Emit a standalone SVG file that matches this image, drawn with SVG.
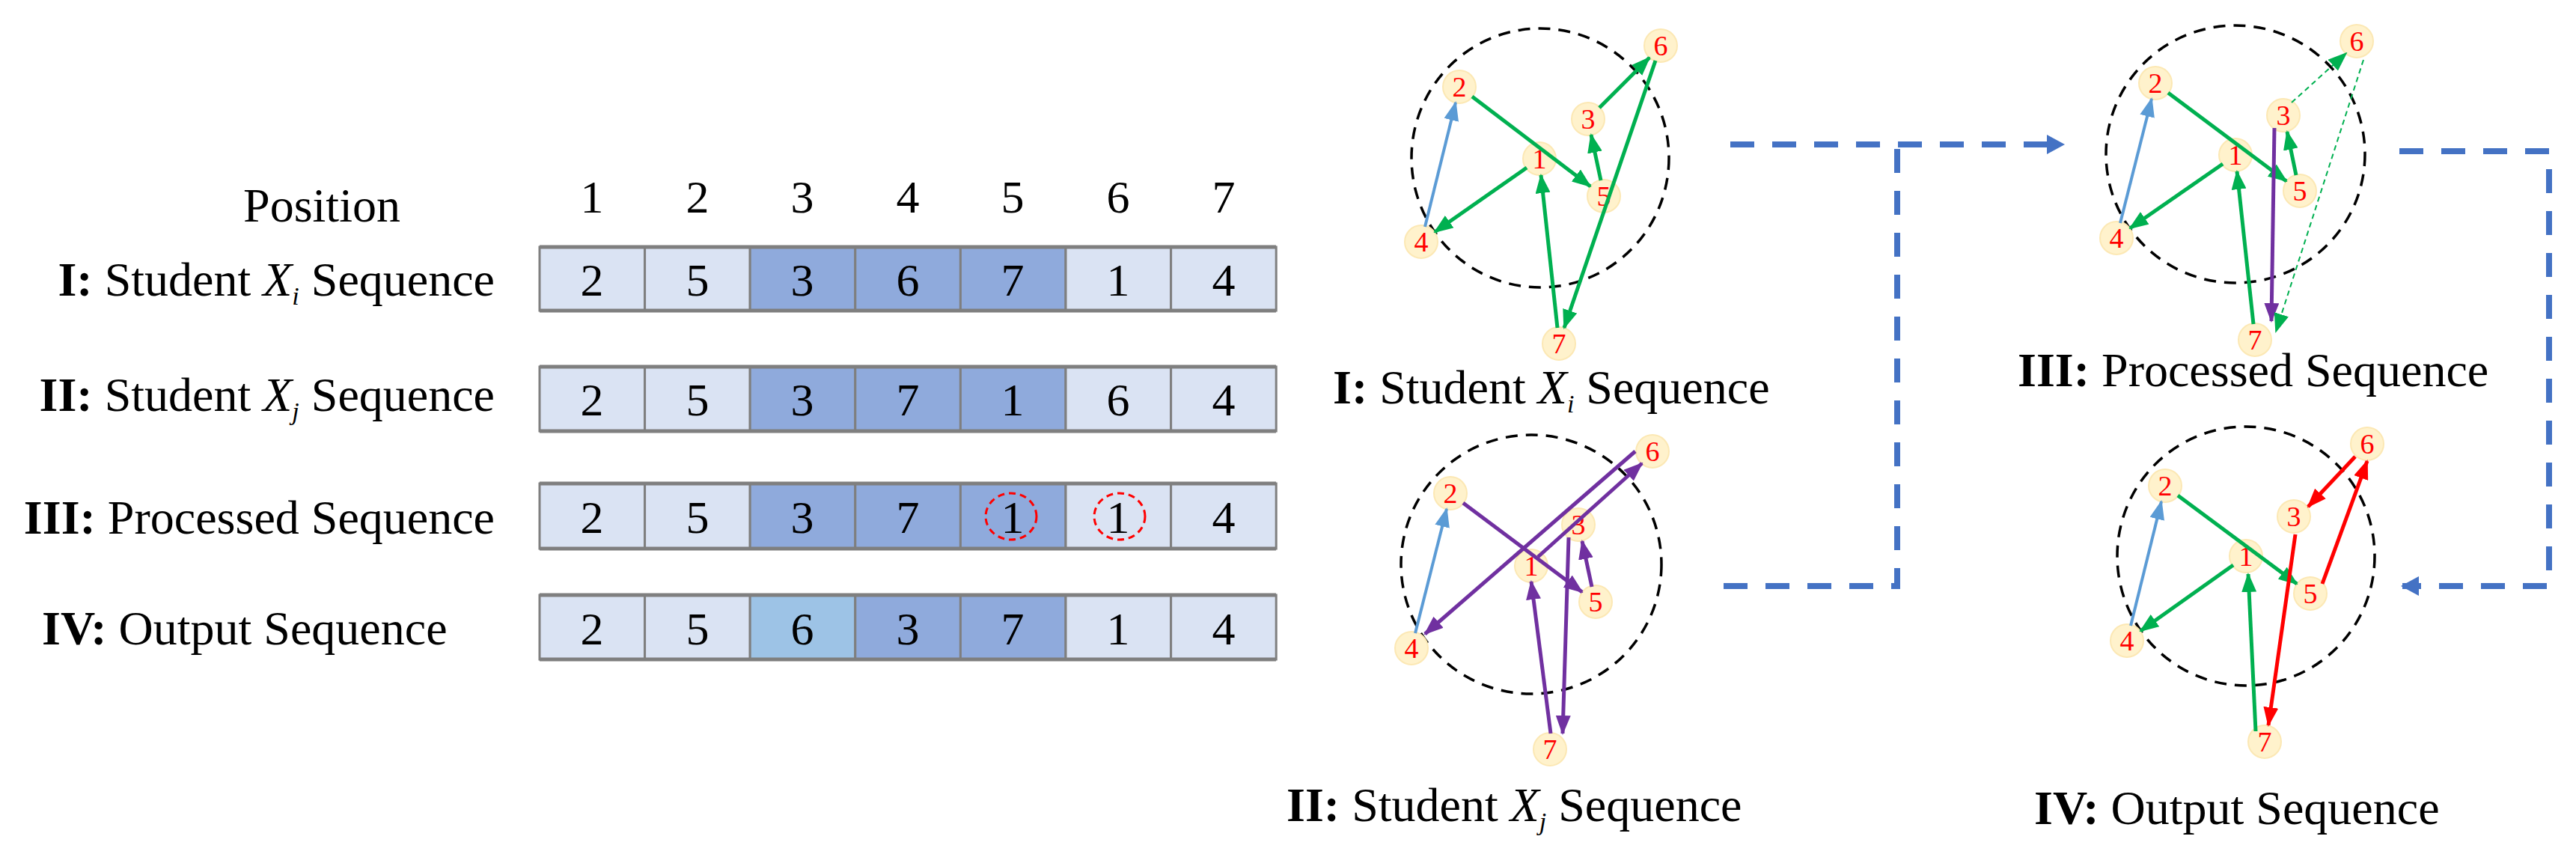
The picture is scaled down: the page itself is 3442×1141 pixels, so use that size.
<svg xmlns="http://www.w3.org/2000/svg" width="3442" height="1141" viewBox="0 0 3442 1141">
<style>
text{font-family:"Liberation Serif","Times New Roman",serif;fill:#000}
.lab{font-size:64px}
.b{font-weight:bold}
.it{font-style:italic}
.sub{font-style:italic;font-size:34px}
.num{font-size:62px;text-anchor:middle}
.c1{fill:#DAE3F3;stroke:#7F7F7F;stroke-width:3}
.c2{fill:#8FAADC;stroke:#7F7F7F;stroke-width:3}
.c3{fill:#9DC3E6;stroke:#7F7F7F;stroke-width:3}
.rowb{fill:none;stroke:#7F7F7F;stroke-width:5}
.red{fill:none;stroke:#FF0000;stroke-width:3;stroke-dasharray:9 6}
.circ{fill:none;stroke:#000;stroke-width:3.5;stroke-dasharray:16 11}
.nd circle{fill:#FFF2CC;stroke:#FCE8B4;stroke-width:2}
.nd text{fill:#FF0000;font-size:38px;text-anchor:middle}
.g{stroke:#00B050;stroke-width:5;fill:none;marker-end:url(#ag)}
.bl{stroke:#5B9BD5;stroke-width:4;fill:none;marker-end:url(#ab)}
.p{stroke:#7030A0;stroke-width:5;fill:none;marker-end:url(#ap)}
.r{stroke:#FF0000;stroke-width:5;fill:none;marker-end:url(#ar)}
.gd{stroke:#00B050;stroke-width:2;stroke-dasharray:7 5;fill:none;marker-end:url(#ag)}
.flow{stroke:#4472C4;stroke-width:8;fill:none;stroke-dasharray:32 24}
</style>
<defs>
<marker id="ag" markerUnits="userSpaceOnUse" markerWidth="26" markerHeight="20" refX="24" refY="10" orient="auto"><path d="M0,0 L26,10 L0,20 z" fill="#00B050"/></marker>
<marker id="ab" markerUnits="userSpaceOnUse" markerWidth="26" markerHeight="20" refX="24" refY="10" orient="auto"><path d="M0,0 L26,10 L0,20 z" fill="#5B9BD5"/></marker>
<marker id="ap" markerUnits="userSpaceOnUse" markerWidth="26" markerHeight="20" refX="24" refY="10" orient="auto"><path d="M0,0 L26,10 L0,20 z" fill="#7030A0"/></marker>
<marker id="ar" markerUnits="userSpaceOnUse" markerWidth="26" markerHeight="20" refX="24" refY="10" orient="auto"><path d="M0,0 L26,10 L0,20 z" fill="#FF0000"/></marker>
<marker id="af" markerUnits="userSpaceOnUse" markerWidth="24" markerHeight="26" refX="22" refY="13" orient="auto"><path d="M0,0 L24,13 L0,26 z" fill="#4472C4"/></marker>
</defs>

<g id="table">
<text class="lab" x="430" y="296" text-anchor="middle">Position</text>
<text x="791" y="284" class="num">1</text><text x="932" y="284" class="num">2</text><text x="1072" y="284" class="num">3</text><text x="1213" y="284" class="num">4</text><text x="1353" y="284" class="num">5</text><text x="1494" y="284" class="num">6</text><text x="1635" y="284" class="num">7</text>

<g id="row1">
<text class="lab" x="661" y="395" text-anchor="end"><tspan class="b">I:</tspan> Student <tspan class="it">X</tspan><tspan class="sub" dy="12">i</tspan><tspan dy="-12">  Sequence</tspan></text>
<rect class="c1" x="721" y="330" width="140.6" height="85"/><rect class="c1" x="861.6" y="330" width="140.6" height="85"/><rect class="c2" x="1002.2" y="330" width="140.6" height="85"/><rect class="c2" x="1142.8" y="330" width="140.6" height="85"/><rect class="c2" x="1283.4" y="330" width="140.6" height="85"/><rect class="c1" x="1424" y="330" width="140.6" height="85"/><rect class="c1" x="1564.6" y="330" width="140.6" height="85"/>
<path class="rowb" d="M721,330 H1705 M721,415 H1705"/>
<text class="num" x="791" y="395">2</text><text class="num" x="932" y="395">5</text><text class="num" x="1072" y="395">3</text><text class="num" x="1213" y="395">6</text><text class="num" x="1353" y="395">7</text><text class="num" x="1494" y="395">1</text><text class="num" x="1635" y="395">4</text>
</g>

<g id="row2">
<text class="lab" x="661" y="549" text-anchor="end"><tspan class="b">II:</tspan> Student <tspan class="it">X</tspan><tspan class="sub" dy="12">j</tspan><tspan dy="-12">  Sequence</tspan></text>
<rect class="c1" x="721" y="490" width="140.6" height="86"/><rect class="c1" x="861.6" y="490" width="140.6" height="86"/><rect class="c2" x="1002.2" y="490" width="140.6" height="86"/><rect class="c2" x="1142.8" y="490" width="140.6" height="86"/><rect class="c2" x="1283.4" y="490" width="140.6" height="86"/><rect class="c1" x="1424" y="490" width="140.6" height="86"/><rect class="c1" x="1564.6" y="490" width="140.6" height="86"/>
<path class="rowb" d="M721,490 H1705 M721,576 H1705"/>
<text class="num" x="791" y="555">2</text><text class="num" x="932" y="555">5</text><text class="num" x="1072" y="555">3</text><text class="num" x="1213" y="555">7</text><text class="num" x="1353" y="555">1</text><text class="num" x="1494" y="555">6</text><text class="num" x="1635" y="555">4</text>
</g>

<g id="row3">
<text class="lab" x="661" y="713" text-anchor="end"><tspan class="b">III:</tspan> Processed Sequence</text>
<rect class="c1" x="721" y="646" width="140.6" height="87"/><rect class="c1" x="861.6" y="646" width="140.6" height="87"/><rect class="c2" x="1002.2" y="646" width="140.6" height="87"/><rect class="c2" x="1142.8" y="646" width="140.6" height="87"/><rect class="c2" x="1283.4" y="646" width="140.6" height="87"/><rect class="c1" x="1424" y="646" width="140.6" height="87"/><rect class="c1" x="1564.6" y="646" width="140.6" height="87"/>
<path class="rowb" d="M721,646 H1705 M721,733 H1705"/>
<text class="num" x="791" y="712">2</text><text class="num" x="932" y="712">5</text><text class="num" x="1072" y="712">3</text><text class="num" x="1213" y="712">7</text><text class="num" x="1353" y="712">1</text><text class="num" x="1494" y="712">1</text><text class="num" x="1635" y="712">4</text>
<ellipse class="red" cx="1351" cy="690" rx="34" ry="31"/>
<ellipse class="red" cx="1496" cy="690" rx="34" ry="31"/>
</g>

<g id="row4">
<text class="lab" x="56" y="861"><tspan class="b">IV:</tspan> Output  Sequence</text>
<rect class="c1" x="721" y="795" width="140.6" height="86"/><rect class="c1" x="861.6" y="795" width="140.6" height="86"/><rect class="c3" x="1002.2" y="795" width="140.6" height="86"/><rect class="c2" x="1142.8" y="795" width="140.6" height="86"/><rect class="c2" x="1283.4" y="795" width="140.6" height="86"/><rect class="c1" x="1424" y="795" width="140.6" height="86"/><rect class="c1" x="1564.6" y="795" width="140.6" height="86"/>
<path class="rowb" d="M721,795 H1705 M721,881 H1705"/>
<text class="num" x="791" y="861">2</text><text class="num" x="932" y="861">5</text><text class="num" x="1072" y="861">6</text><text class="num" x="1213" y="861">3</text><text class="num" x="1353" y="861">7</text><text class="num" x="1494" y="861">1</text><text class="num" x="1635" y="861">4</text>
</g>
</g>

<g id="graph1">
<ellipse class="circ" cx="2058" cy="211" rx="172" ry="173"/>
<g class="nd"><circle cx="2057" cy="212" r="22"/><text x="2057" y="225">1</text></g>
<g class="nd"><circle cx="1950" cy="116" r="22"/><text x="1950" y="129">2</text></g>
<g class="nd"><circle cx="2122" cy="159" r="22"/><text x="2122" y="172">3</text></g>
<g class="nd"><circle cx="1899" cy="323" r="22"/><text x="1899" y="336">4</text></g>
<g class="nd"><circle cx="2143" cy="262" r="22"/><text x="2143" y="275">5</text></g>
<g class="nd"><circle cx="2219" cy="61" r="22"/><text x="2219" y="74">6</text></g>
<g class="nd"><circle cx="2083" cy="459" r="22"/><text x="2083" y="472">7</text></g>
<text class="lab" x="1781" y="539"><tspan class="b">I:</tspan> Student <tspan class="it">X</tspan><tspan class="sub" dy="12">i</tspan><tspan dy="-12">  Sequence</tspan></text>
</g>

<g id="graph2">
<ellipse class="circ" cx="2046" cy="754" rx="174" ry="173"/>
<g class="nd"><circle cx="2046" cy="756" r="22"/><text x="2046" y="769">1</text></g>
<g class="nd"><circle cx="1938" cy="659" r="22"/><text x="1938" y="672">2</text></g>
<g class="nd"><circle cx="2109" cy="701" r="22"/><text x="2109" y="714">3</text></g>
<g class="nd"><circle cx="1886" cy="866" r="22"/><text x="1886" y="879">4</text></g>
<g class="nd"><circle cx="2132" cy="804" r="22"/><text x="2132" y="817">5</text></g>
<g class="nd"><circle cx="2208" cy="603" r="22"/><text x="2208" y="616">6</text></g>
<g class="nd"><circle cx="2071" cy="1001" r="22"/><text x="2071" y="1014">7</text></g>
<text class="lab" x="1719" y="1097"><tspan class="b">II:</tspan> Student <tspan class="it">X</tspan><tspan class="sub" dy="12">j</tspan><tspan dy="-12">  Sequence</tspan></text>
</g>

<g id="graph3">
<ellipse class="circ" cx="2987" cy="206" rx="173" ry="172"/>
<g class="nd"><circle cx="2987" cy="207" r="22"/><text x="2987" y="220">1</text></g>
<g class="nd"><circle cx="2880" cy="111" r="22"/><text x="2880" y="124">2</text></g>
<g class="nd"><circle cx="3051" cy="154" r="22"/><text x="3051" y="167">3</text></g>
<g class="nd"><circle cx="2828" cy="318" r="22"/><text x="2828" y="331">4</text></g>
<g class="nd"><circle cx="3073" cy="255" r="22"/><text x="3073" y="268">5</text></g>
<g class="nd"><circle cx="3149" cy="55" r="22"/><text x="3149" y="68">6</text></g>
<g class="nd"><circle cx="3013" cy="454" r="22"/><text x="3013" y="467">7</text></g>
<text class="lab" x="2696" y="516"><tspan class="b">III:</tspan> Processed Sequence</text>
</g>

<g id="graph4">
<ellipse class="circ" cx="3001" cy="743" rx="172" ry="173"/>
<g class="nd"><circle cx="3001" cy="743" r="22"/><text x="3001" y="756">1</text></g>
<g class="nd"><circle cx="2893" cy="649" r="22"/><text x="2893" y="662">2</text></g>
<g class="nd"><circle cx="3065" cy="690" r="22"/><text x="3065" y="703">3</text></g>
<g class="nd"><circle cx="2842" cy="856" r="22"/><text x="2842" y="869">4</text></g>
<g class="nd"><circle cx="3087" cy="793" r="22"/><text x="3087" y="806">5</text></g>
<g class="nd"><circle cx="3163" cy="593" r="22"/><text x="3163" y="606">6</text></g>
<g class="nd"><circle cx="3026" cy="991" r="22"/><text x="3026" y="1004">7</text></g>
<text class="lab" x="2718" y="1101"><tspan class="b">IV:</tspan> Output  Sequence</text>
</g>

<g id="connectors">
<line class="bl" x1="1904" y1="303" x2="1945" y2="137"/>
<line class="g" x1="1967" y1="129" x2="2125" y2="249"/>
<line class="g" x1="2139" y1="241" x2="2126" y2="180"/>
<line class="g" x1="2137" y1="144" x2="2204" y2="77"/>
<line class="g" x1="2212" y1="81" x2="2090" y2="438"/>
<line class="g" x1="2081" y1="438" x2="2059" y2="234"/>
<line class="g" x1="2040" y1="224" x2="1917" y2="310"/>
<line class="bl" x1="1891" y1="846" x2="1933" y2="680"/>
<line class="p" x1="1955" y1="672" x2="2114" y2="791"/>
<line class="p" x1="2127" y1="784" x2="2114" y2="723"/>
<line class="p" x1="2096" y1="718" x2="2088" y2="980"/>
<line class="p" x1="2072" y1="980" x2="2046" y2="777"/>
<line class="p" x1="2055" y1="744" x2="2194" y2="619"/>
<line class="p" x1="2185" y1="603" x2="1904" y2="847"/>
<line class="bl" x1="2833" y1="298" x2="2875" y2="132"/>
<line class="g" x1="2897" y1="124" x2="3055" y2="242"/>
<line class="g" x1="3068" y1="234" x2="3056" y2="176"/>
<line class="p" x1="3039" y1="171" x2="3035" y2="429"/>
<line class="g" x1="3011" y1="433" x2="2989" y2="229"/>
<line class="g" x1="2970" y1="219" x2="2846" y2="305"/>
<line class="gd" x1="3062" y1="137" x2="3135" y2="71"/>
<line class="gd" x1="3158" y1="80" x2="3041" y2="443"/>
<line class="bl" x1="2847" y1="836" x2="2888" y2="670"/>
<line class="g" x1="2910" y1="662" x2="3069" y2="780"/>
<line class="r" x1="3103" y1="780" x2="3163" y2="616"/>
<line class="r" x1="3147" y1="610" x2="3084" y2="677"/>
<line class="r" x1="3067" y1="714" x2="3031" y2="969"/>
<line class="g" x1="3014" y1="977" x2="3004" y2="767"/>
<line class="g" x1="2984" y1="755" x2="2860" y2="843"/>
<path class="flow" d="M2312,193 H2535 H2757" marker-end="url(#af)"/>
<path class="flow" d="M2303,783 H2535 V193" stroke-dasharray="8 24 32 24"/>
<path class="flow" d="M3206,202 H3406 V783 H3210" marker-end="url(#af)"/>
</g>
</svg>
